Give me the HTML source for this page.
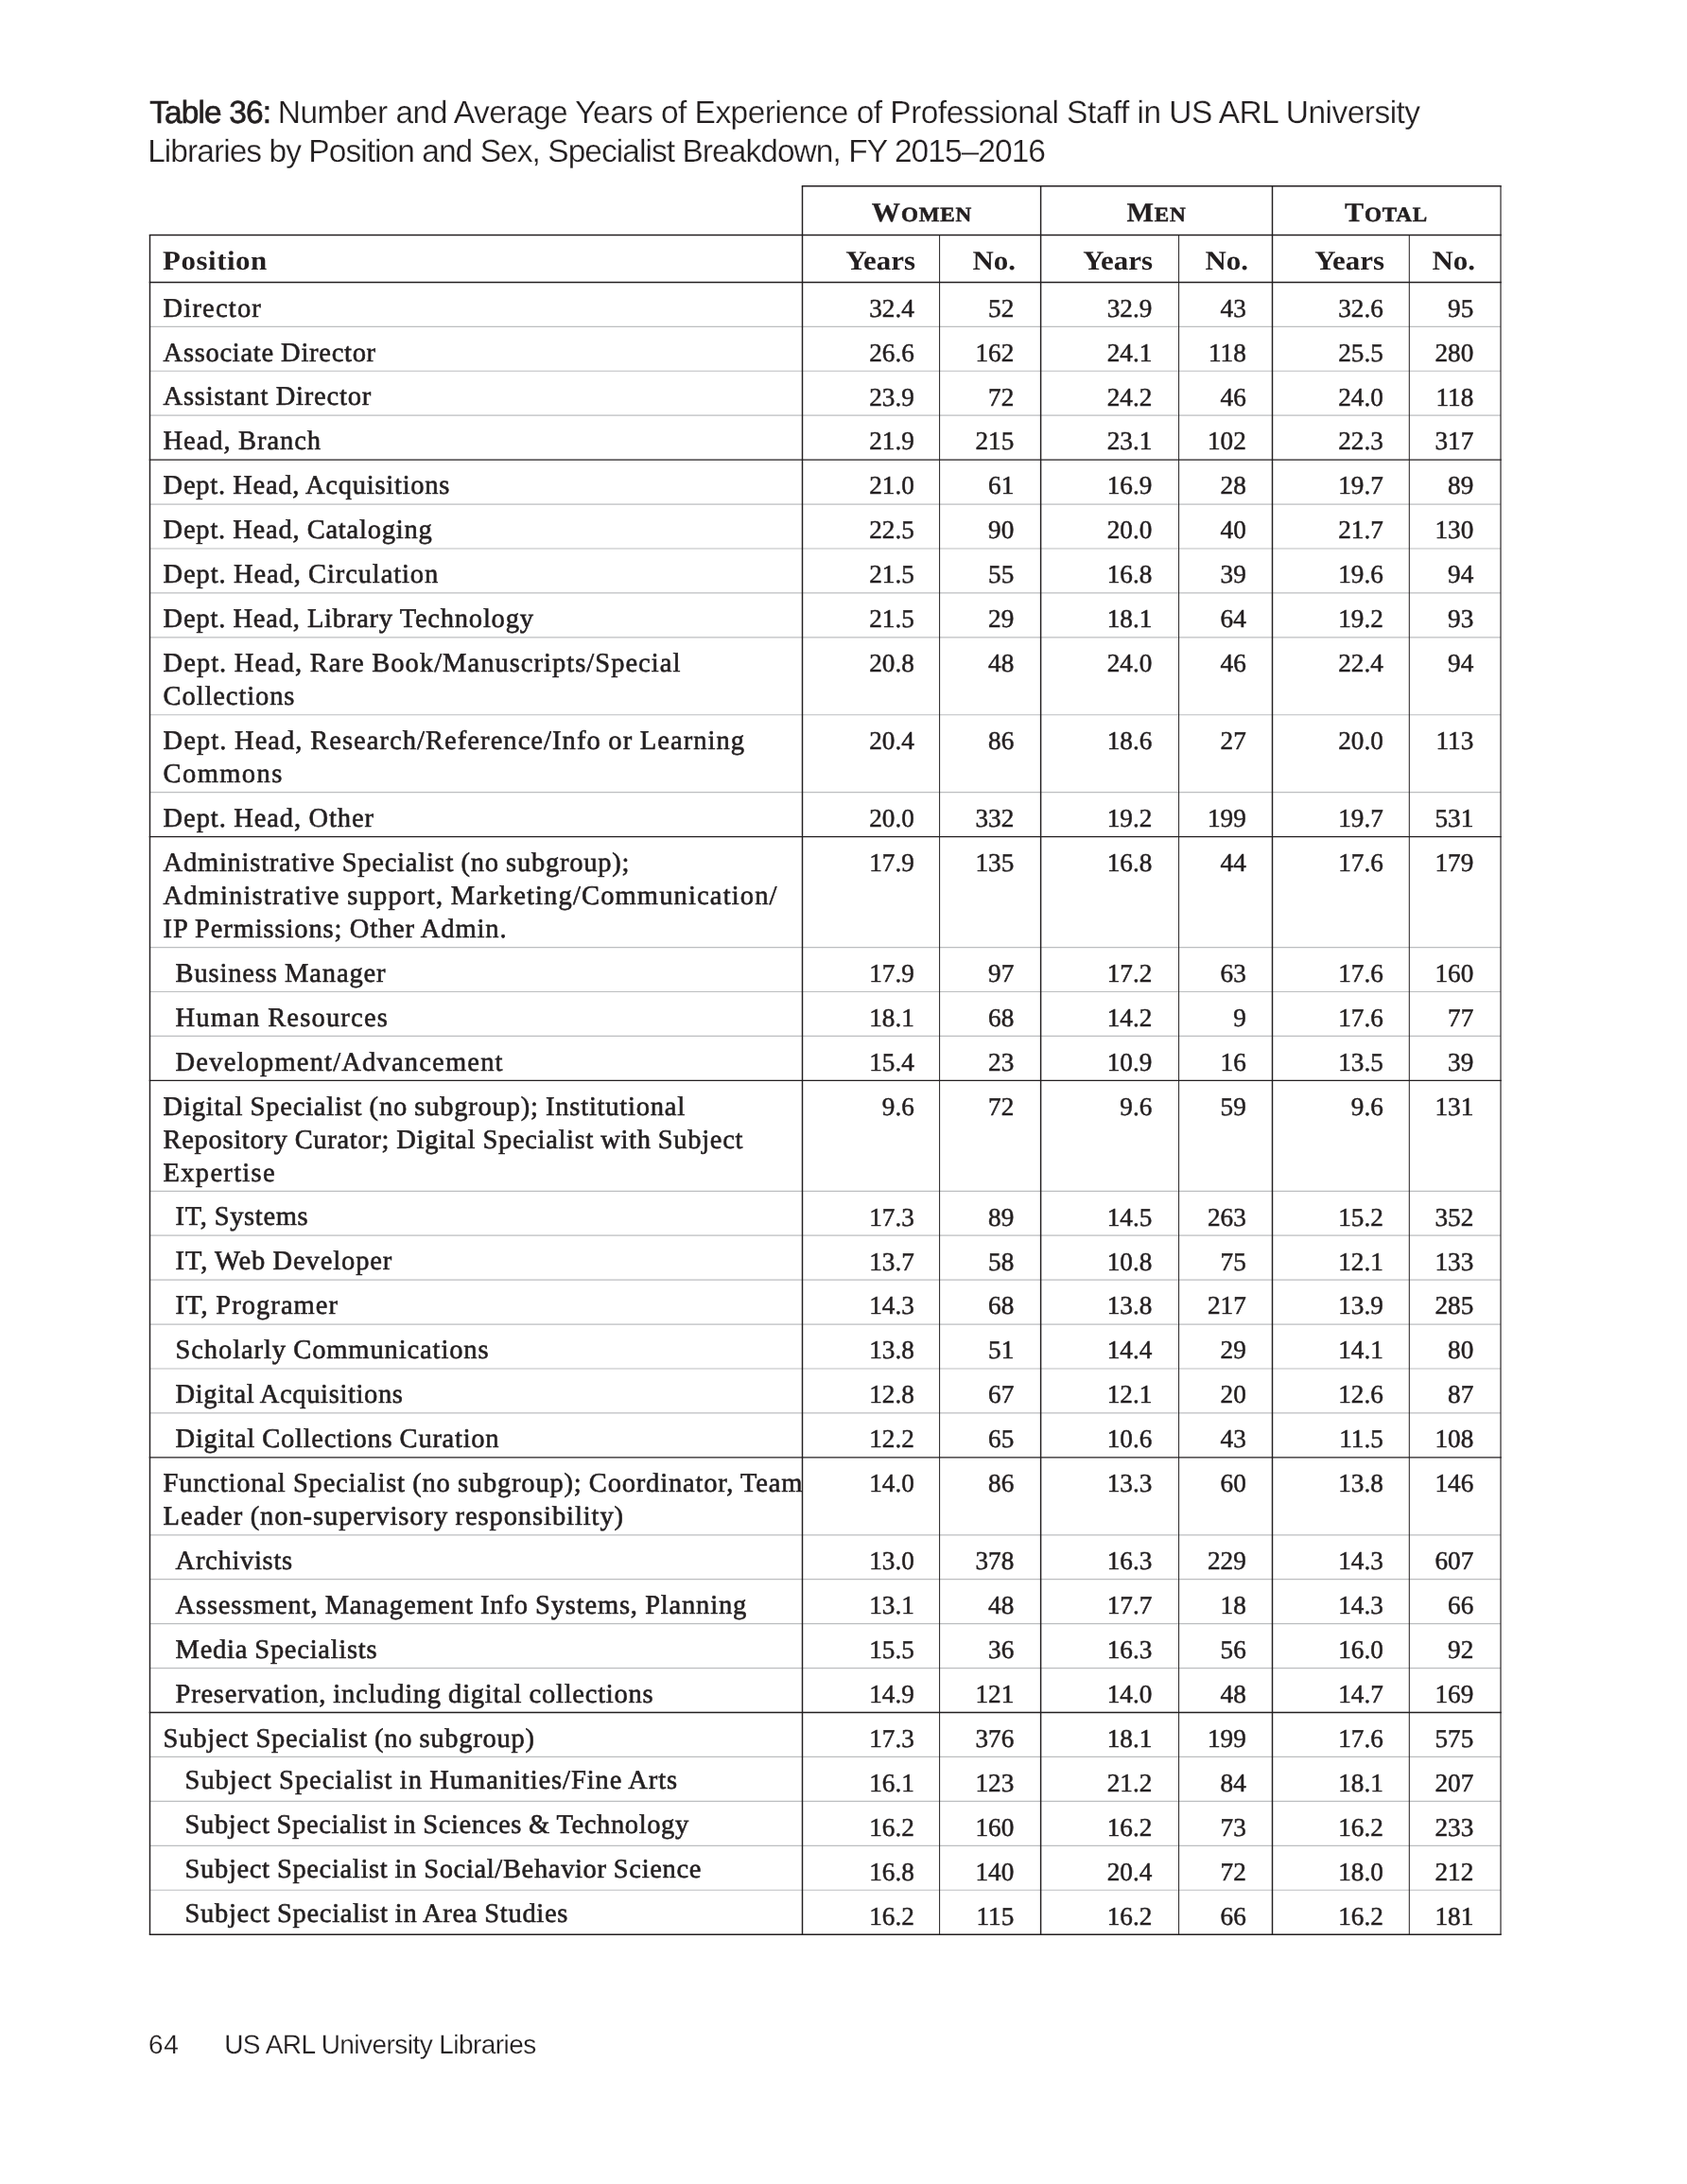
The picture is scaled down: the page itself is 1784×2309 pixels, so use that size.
<!DOCTYPE html>
<html lang="en"><head><meta charset="utf-8">
<title>Table 36: Number and Average Years of Experience of Professional Staff in US ARL University Libraries</title>
<style>

html,body{margin:0;padding:0;background:#fff;}
body{width:1784px;height:2309px;position:relative;overflow:hidden;color:#231f20;
  font-family:"Liberation Serif",serif;font-size:28.5px;line-height:35.0px;
  -webkit-font-smoothing:antialiased;text-rendering:geometricPrecision;font-kerning:normal;}
.page{position:absolute;left:0;top:0;width:1784px;height:2309px;will-change:transform;}
svg.rules{position:absolute;left:0;top:0;}
.title{position:absolute;left:158.2px;top:100.1px;margin:0;font-family:"Liberation Sans",sans-serif;font-weight:400;
  font-size:33.5px;line-height:40.8px;white-space:nowrap;color:#231f20;-webkit-text-stroke:0.25px #fff;}
.title b{font-weight:400;display:inline-block;width:126.8px;letter-spacing:-0.9px;-webkit-text-stroke:0.65px #231f20;}
.title span{display:block;}
.title .l1{letter-spacing:-0.53px;}
.title .l2{letter-spacing:-0.95px;margin-left:-2px;}
.tbl{position:absolute;left:0;top:0;width:1784px;}
.r{position:absolute;left:0;width:1784px;}
.c{position:absolute;top:0;white-space:nowrap;}
.p{letter-spacing:0.78px;word-spacing:-0.6px;-webkit-text-stroke:0.6px #231f20;}
.n{text-align:right;width:140px;font-size:27.2px;-webkit-text-stroke:0.5px #231f20;}
.h{font-weight:700;font-size:28.5px;-webkit-text-stroke:0;transform:scaleX(1.085);transform-origin:100% 50%;}
.h.p{transform-origin:0 50%;letter-spacing:0.5px;}
.g{text-align:center;font-weight:700;font-size:21.8px;letter-spacing:0.8px;transform:scaleX(1.06);-webkit-text-stroke:0.6px #231f20;}
.g i{font-style:normal;font-size:28.5px;-webkit-text-stroke:0.25px #231f20;}
.foot{position:absolute;left:158px;top:2143.6px;font-family:"Liberation Sans",sans-serif;font-size:28px;line-height:36px;white-space:nowrap;color:#231f20;letter-spacing:-0.55px;-webkit-text-stroke:0.2px #fff;}
.foot .pg{position:absolute;left:-0.9px;top:0;letter-spacing:0.6px;}
.foot .rt{position:absolute;left:79.2px;top:0;}

</style></head><body><div class="page">
<svg class="rules" width="1784" height="2309" viewBox="0 0 1784 2309" aria-hidden="true">
<line x1="158.5" y1="345.33" x2="1587" y2="345.33" stroke="#bcbec0" stroke-width="1.2"/>
<line x1="158.5" y1="392.26" x2="1587" y2="392.26" stroke="#bcbec0" stroke-width="1.2"/>
<line x1="158.5" y1="439.19" x2="1587" y2="439.19" stroke="#bcbec0" stroke-width="1.2"/>
<line x1="158.5" y1="533.05" x2="1587" y2="533.05" stroke="#bcbec0" stroke-width="1.2"/>
<line x1="158.5" y1="579.98" x2="1587" y2="579.98" stroke="#bcbec0" stroke-width="1.2"/>
<line x1="158.5" y1="626.91" x2="1587" y2="626.91" stroke="#bcbec0" stroke-width="1.2"/>
<line x1="158.5" y1="673.84" x2="1587" y2="673.84" stroke="#bcbec0" stroke-width="1.2"/>
<line x1="158.5" y1="755.77" x2="1587" y2="755.77" stroke="#bcbec0" stroke-width="1.2"/>
<line x1="158.5" y1="837.7" x2="1587" y2="837.7" stroke="#bcbec0" stroke-width="1.2"/>
<line x1="158.5" y1="1001.56" x2="1587" y2="1001.56" stroke="#bcbec0" stroke-width="1.2"/>
<line x1="158.5" y1="1048.49" x2="1587" y2="1048.49" stroke="#bcbec0" stroke-width="1.2"/>
<line x1="158.5" y1="1095.42" x2="1587" y2="1095.42" stroke="#bcbec0" stroke-width="1.2"/>
<line x1="158.5" y1="1259.28" x2="1587" y2="1259.28" stroke="#bcbec0" stroke-width="1.2"/>
<line x1="158.5" y1="1306.21" x2="1587" y2="1306.21" stroke="#bcbec0" stroke-width="1.2"/>
<line x1="158.5" y1="1353.14" x2="1587" y2="1353.14" stroke="#bcbec0" stroke-width="1.2"/>
<line x1="158.5" y1="1400.07" x2="1587" y2="1400.07" stroke="#bcbec0" stroke-width="1.2"/>
<line x1="158.5" y1="1447" x2="1587" y2="1447" stroke="#bcbec0" stroke-width="1.2"/>
<line x1="158.5" y1="1493.93" x2="1587" y2="1493.93" stroke="#bcbec0" stroke-width="1.2"/>
<line x1="158.5" y1="1622.79" x2="1587" y2="1622.79" stroke="#bcbec0" stroke-width="1.2"/>
<line x1="158.5" y1="1669.72" x2="1587" y2="1669.72" stroke="#bcbec0" stroke-width="1.2"/>
<line x1="158.5" y1="1716.65" x2="1587" y2="1716.65" stroke="#bcbec0" stroke-width="1.2"/>
<line x1="158.5" y1="1763.58" x2="1587" y2="1763.58" stroke="#bcbec0" stroke-width="1.2"/>
<line x1="158.5" y1="1857.44" x2="1587" y2="1857.44" stroke="#bcbec0" stroke-width="1.2"/>
<line x1="158.5" y1="1904.37" x2="1587" y2="1904.37" stroke="#bcbec0" stroke-width="1.2"/>
<line x1="158.5" y1="1951.3" x2="1587" y2="1951.3" stroke="#bcbec0" stroke-width="1.2"/>
<line x1="158.5" y1="1998.23" x2="1587" y2="1998.23" stroke="#bcbec0" stroke-width="1.2"/>
<line x1="158.5" y1="248.4" x2="158.5" y2="2045.16" stroke="#231f20" stroke-width="1.45"/>
<line x1="848.5" y1="196.7" x2="848.5" y2="2045.16" stroke="#231f20" stroke-width="1.45"/>
<line x1="993.6" y1="248.4" x2="993.6" y2="2045.16" stroke="#231f20" stroke-width="1.0"/>
<line x1="1100.6" y1="196.7" x2="1100.6" y2="2045.16" stroke="#231f20" stroke-width="1.45"/>
<line x1="1246.6" y1="248.4" x2="1246.6" y2="2045.16" stroke="#231f20" stroke-width="1.0"/>
<line x1="1345.5" y1="196.7" x2="1345.5" y2="2045.16" stroke="#231f20" stroke-width="1.45"/>
<line x1="1490.3" y1="248.4" x2="1490.3" y2="2045.16" stroke="#231f20" stroke-width="1.0"/>
<line x1="1587" y1="196.7" x2="1587" y2="2045.16" stroke="#231f20" stroke-width="1.15"/>
<line x1="847.77" y1="196.7" x2="1587.72" y2="196.7" stroke="#231f20" stroke-width="1.45"/>
<line x1="157.78" y1="248.4" x2="1587.72" y2="248.4" stroke="#231f20" stroke-width="1.45"/>
<line x1="157.78" y1="298.4" x2="1587.72" y2="298.4" stroke="#231f20" stroke-width="1.45"/>
<line x1="157.78" y1="486.12" x2="1587.72" y2="486.12" stroke="#231f20" stroke-width="1.45"/>
<line x1="157.78" y1="884.63" x2="1587.72" y2="884.63" stroke="#231f20" stroke-width="1.45"/>
<line x1="157.78" y1="1142.35" x2="1587.72" y2="1142.35" stroke="#231f20" stroke-width="1.45"/>
<line x1="157.78" y1="1540.86" x2="1587.72" y2="1540.86" stroke="#231f20" stroke-width="1.45"/>
<line x1="157.78" y1="1810.51" x2="1587.72" y2="1810.51" stroke="#231f20" stroke-width="1.45"/>
<line x1="157.78" y1="2045.16" x2="1587.72" y2="2045.16" stroke="#231f20" stroke-width="1.45"/>
</svg>
<h1 class="title"><span class="l1"><b>Table 36:</b> Number and Average Years of Experience of Professional Staff in US ARL University</span><span class="l2">Libraries by Position and Sex, Specialist Breakdown, FY 2015–2016</span></h1>
<div class="tbl">
<div class="r" style="top:196.7px;height:51.7px">
<div class="c g" style="left:854.55px;width:240px;top:11.7px"><i>W</i>OMEN</div>
<div class="c g" style="left:1103.05px;width:240px;top:11.7px"><i>M</i>EN</div>
<div class="c g" style="left:1346.25px;width:240px;top:11.7px"><i>T</i>OTAL</div>
</div>
<div class="r" style="top:248.4px;height:50px">
<div class="c h p" style="left:171.7px;top:10.8px">Position</div>
<div class="c n h" style="left:827.7px;top:10.8px">Years</div>
<div class="c n h" style="left:934.2px;top:10.8px">No.</div>
<div class="c n h" style="left:1079.2px;top:10.8px">Years</div>
<div class="c n h" style="left:1179.7px;top:10.8px">No.</div>
<div class="c n h" style="left:1323.7px;top:10.8px">Years</div>
<div class="c n h" style="left:1420.2px;top:10.8px">No.</div>
</div>
<div class="r" style="top:298.4px;height:46.93px">
<div class="c p" style="left:172.6px;top:10.2px"><span style="letter-spacing:1.18px">Director</span></div>
<div class="c n" style="left:826.8px;top:10.3px">32.4</div>
<div class="c n" style="left:932.3px;top:10.3px">52</div>
<div class="c n" style="left:1078.3px;top:10.3px">32.9</div>
<div class="c n" style="left:1177.8px;top:10.3px">43</div>
<div class="c n" style="left:1322.8px;top:10.3px">32.6</div>
<div class="c n" style="left:1418.3px;top:10.3px">95</div>
</div>
<div class="r" style="top:345.33px;height:46.93px">
<div class="c p" style="left:172.6px;top:10.2px"><span style="letter-spacing:0.72px">Associate Director</span></div>
<div class="c n" style="left:826.8px;top:10.3px">26.6</div>
<div class="c n" style="left:932.3px;top:10.3px">162</div>
<div class="c n" style="left:1078.3px;top:10.3px">24.1</div>
<div class="c n" style="left:1177.8px;top:10.3px">118</div>
<div class="c n" style="left:1322.8px;top:10.3px">25.5</div>
<div class="c n" style="left:1418.3px;top:10.3px">280</div>
</div>
<div class="r" style="top:392.26px;height:46.93px">
<div class="c p" style="left:172.6px;top:10.2px"><span style="letter-spacing:0.8px">Assistant Director</span></div>
<div class="c n" style="left:826.8px;top:10.3px">23.9</div>
<div class="c n" style="left:932.3px;top:10.3px">72</div>
<div class="c n" style="left:1078.3px;top:10.3px">24.2</div>
<div class="c n" style="left:1177.8px;top:10.3px">46</div>
<div class="c n" style="left:1322.8px;top:10.3px">24.0</div>
<div class="c n" style="left:1418.3px;top:10.3px">118</div>
</div>
<div class="r" style="top:439.19px;height:46.93px">
<div class="c p" style="left:172.6px;top:10.2px"><span style="letter-spacing:0.94px">Head, Branch</span></div>
<div class="c n" style="left:826.8px;top:10.3px">21.9</div>
<div class="c n" style="left:932.3px;top:10.3px">215</div>
<div class="c n" style="left:1078.3px;top:10.3px">23.1</div>
<div class="c n" style="left:1177.8px;top:10.3px">102</div>
<div class="c n" style="left:1322.8px;top:10.3px">22.3</div>
<div class="c n" style="left:1418.3px;top:10.3px">317</div>
</div>
<div class="r" style="top:486.12px;height:46.93px">
<div class="c p" style="left:172.6px;top:10.2px"><span style="letter-spacing:0.76px">Dept. Head, Acquisitions</span></div>
<div class="c n" style="left:826.8px;top:10.3px">21.0</div>
<div class="c n" style="left:932.3px;top:10.3px">61</div>
<div class="c n" style="left:1078.3px;top:10.3px">16.9</div>
<div class="c n" style="left:1177.8px;top:10.3px">28</div>
<div class="c n" style="left:1322.8px;top:10.3px">19.7</div>
<div class="c n" style="left:1418.3px;top:10.3px">89</div>
</div>
<div class="r" style="top:533.05px;height:46.93px">
<div class="c p" style="left:172.6px;top:10.2px"><span style="letter-spacing:0.77px">Dept. Head, Cataloging</span></div>
<div class="c n" style="left:826.8px;top:10.3px">22.5</div>
<div class="c n" style="left:932.3px;top:10.3px">90</div>
<div class="c n" style="left:1078.3px;top:10.3px">20.0</div>
<div class="c n" style="left:1177.8px;top:10.3px">40</div>
<div class="c n" style="left:1322.8px;top:10.3px">21.7</div>
<div class="c n" style="left:1418.3px;top:10.3px">130</div>
</div>
<div class="r" style="top:579.98px;height:46.93px">
<div class="c p" style="left:172.6px;top:10.2px"><span style="letter-spacing:0.89px">Dept. Head, Circulation</span></div>
<div class="c n" style="left:826.8px;top:10.3px">21.5</div>
<div class="c n" style="left:932.3px;top:10.3px">55</div>
<div class="c n" style="left:1078.3px;top:10.3px">16.8</div>
<div class="c n" style="left:1177.8px;top:10.3px">39</div>
<div class="c n" style="left:1322.8px;top:10.3px">19.6</div>
<div class="c n" style="left:1418.3px;top:10.3px">94</div>
</div>
<div class="r" style="top:626.91px;height:46.93px">
<div class="c p" style="left:172.6px;top:10.2px"><span style="letter-spacing:0.79px">Dept. Head, Library Technology</span></div>
<div class="c n" style="left:826.8px;top:10.3px">21.5</div>
<div class="c n" style="left:932.3px;top:10.3px">29</div>
<div class="c n" style="left:1078.3px;top:10.3px">18.1</div>
<div class="c n" style="left:1177.8px;top:10.3px">64</div>
<div class="c n" style="left:1322.8px;top:10.3px">19.2</div>
<div class="c n" style="left:1418.3px;top:10.3px">93</div>
</div>
<div class="r" style="top:673.84px;height:81.93px">
<div class="c p" style="left:172.6px;top:10.2px"><span style="letter-spacing:1.03px">Dept. Head, Rare Book/Manuscripts/Special</span><br><span style="letter-spacing:0.9px">Collections</span></div>
<div class="c n" style="left:826.8px;top:10.3px">20.8</div>
<div class="c n" style="left:932.3px;top:10.3px">48</div>
<div class="c n" style="left:1078.3px;top:10.3px">24.0</div>
<div class="c n" style="left:1177.8px;top:10.3px">46</div>
<div class="c n" style="left:1322.8px;top:10.3px">22.4</div>
<div class="c n" style="left:1418.3px;top:10.3px">94</div>
</div>
<div class="r" style="top:755.77px;height:81.93px">
<div class="c p" style="left:172.6px;top:10.2px"><span style="letter-spacing:1.06px">Dept. Head, Research/Reference/Info or Learning</span><br><span style="letter-spacing:1.41px">Commons</span></div>
<div class="c n" style="left:826.8px;top:10.3px">20.4</div>
<div class="c n" style="left:932.3px;top:10.3px">86</div>
<div class="c n" style="left:1078.3px;top:10.3px">18.6</div>
<div class="c n" style="left:1177.8px;top:10.3px">27</div>
<div class="c n" style="left:1322.8px;top:10.3px">20.0</div>
<div class="c n" style="left:1418.3px;top:10.3px">113</div>
</div>
<div class="r" style="top:837.7px;height:46.93px">
<div class="c p" style="left:172.6px;top:10.2px"><span style="letter-spacing:0.92px">Dept. Head, Other</span></div>
<div class="c n" style="left:826.8px;top:10.3px">20.0</div>
<div class="c n" style="left:932.3px;top:10.3px">332</div>
<div class="c n" style="left:1078.3px;top:10.3px">19.2</div>
<div class="c n" style="left:1177.8px;top:10.3px">199</div>
<div class="c n" style="left:1322.8px;top:10.3px">19.7</div>
<div class="c n" style="left:1418.3px;top:10.3px">531</div>
</div>
<div class="r" style="top:884.63px;height:116.93px">
<div class="c p" style="left:172.6px;top:10.2px"><span style="letter-spacing:0.77px">Administrative Specialist (no subgroup);</span><br><span style="letter-spacing:1.15px">Administrative support, Marketing/Communication/</span><br><span style="letter-spacing:0.88px">IP Permissions; Other Admin.</span></div>
<div class="c n" style="left:826.8px;top:10.3px">17.9</div>
<div class="c n" style="left:932.3px;top:10.3px">135</div>
<div class="c n" style="left:1078.3px;top:10.3px">16.8</div>
<div class="c n" style="left:1177.8px;top:10.3px">44</div>
<div class="c n" style="left:1322.8px;top:10.3px">17.6</div>
<div class="c n" style="left:1418.3px;top:10.3px">179</div>
</div>
<div class="r" style="top:1001.56px;height:46.93px">
<div class="c p" style="left:185.6px;top:10.2px"><span style="letter-spacing:0.85px">Business Manager</span></div>
<div class="c n" style="left:826.8px;top:10.3px">17.9</div>
<div class="c n" style="left:932.3px;top:10.3px">97</div>
<div class="c n" style="left:1078.3px;top:10.3px">17.2</div>
<div class="c n" style="left:1177.8px;top:10.3px">63</div>
<div class="c n" style="left:1322.8px;top:10.3px">17.6</div>
<div class="c n" style="left:1418.3px;top:10.3px">160</div>
</div>
<div class="r" style="top:1048.49px;height:46.93px">
<div class="c p" style="left:185.6px;top:10.2px"><span style="letter-spacing:1.19px">Human Resources</span></div>
<div class="c n" style="left:826.8px;top:10.3px">18.1</div>
<div class="c n" style="left:932.3px;top:10.3px">68</div>
<div class="c n" style="left:1078.3px;top:10.3px">14.2</div>
<div class="c n" style="left:1177.8px;top:10.3px">9</div>
<div class="c n" style="left:1322.8px;top:10.3px">17.6</div>
<div class="c n" style="left:1418.3px;top:10.3px">77</div>
</div>
<div class="r" style="top:1095.42px;height:46.93px">
<div class="c p" style="left:185.6px;top:10.2px"><span style="letter-spacing:1.19px">Development/Advancement</span></div>
<div class="c n" style="left:826.8px;top:10.3px">15.4</div>
<div class="c n" style="left:932.3px;top:10.3px">23</div>
<div class="c n" style="left:1078.3px;top:10.3px">10.9</div>
<div class="c n" style="left:1177.8px;top:10.3px">16</div>
<div class="c n" style="left:1322.8px;top:10.3px">13.5</div>
<div class="c n" style="left:1418.3px;top:10.3px">39</div>
</div>
<div class="r" style="top:1142.35px;height:116.93px">
<div class="c p" style="left:172.6px;top:10.2px"><span style="letter-spacing:0.79px">Digital Specialist (no subgroup); Institutional</span><br><span style="letter-spacing:0.68px">Repository Curator; Digital Specialist with Subject</span><br><span style="letter-spacing:1.3px">Expertise</span></div>
<div class="c n" style="left:826.8px;top:10.3px">9.6</div>
<div class="c n" style="left:932.3px;top:10.3px">72</div>
<div class="c n" style="left:1078.3px;top:10.3px">9.6</div>
<div class="c n" style="left:1177.8px;top:10.3px">59</div>
<div class="c n" style="left:1322.8px;top:10.3px">9.6</div>
<div class="c n" style="left:1418.3px;top:10.3px">131</div>
</div>
<div class="r" style="top:1259.28px;height:46.93px">
<div class="c p" style="left:185.6px;top:10.2px"><span style="letter-spacing:0.66px">IT, Systems</span></div>
<div class="c n" style="left:826.8px;top:10.3px">17.3</div>
<div class="c n" style="left:932.3px;top:10.3px">89</div>
<div class="c n" style="left:1078.3px;top:10.3px">14.5</div>
<div class="c n" style="left:1177.8px;top:10.3px">263</div>
<div class="c n" style="left:1322.8px;top:10.3px">15.2</div>
<div class="c n" style="left:1418.3px;top:10.3px">352</div>
</div>
<div class="r" style="top:1306.21px;height:46.93px">
<div class="c p" style="left:185.6px;top:10.2px"><span style="letter-spacing:0.88px">IT, Web Developer</span></div>
<div class="c n" style="left:826.8px;top:10.3px">13.7</div>
<div class="c n" style="left:932.3px;top:10.3px">58</div>
<div class="c n" style="left:1078.3px;top:10.3px">10.8</div>
<div class="c n" style="left:1177.8px;top:10.3px">75</div>
<div class="c n" style="left:1322.8px;top:10.3px">12.1</div>
<div class="c n" style="left:1418.3px;top:10.3px">133</div>
</div>
<div class="r" style="top:1353.14px;height:46.93px">
<div class="c p" style="left:185.6px;top:10.2px"><span style="letter-spacing:1.06px">IT, Programer</span></div>
<div class="c n" style="left:826.8px;top:10.3px">14.3</div>
<div class="c n" style="left:932.3px;top:10.3px">68</div>
<div class="c n" style="left:1078.3px;top:10.3px">13.8</div>
<div class="c n" style="left:1177.8px;top:10.3px">217</div>
<div class="c n" style="left:1322.8px;top:10.3px">13.9</div>
<div class="c n" style="left:1418.3px;top:10.3px">285</div>
</div>
<div class="r" style="top:1400.07px;height:46.93px">
<div class="c p" style="left:185.6px;top:10.2px"><span style="letter-spacing:0.89px">Scholarly Communications</span></div>
<div class="c n" style="left:826.8px;top:10.3px">13.8</div>
<div class="c n" style="left:932.3px;top:10.3px">51</div>
<div class="c n" style="left:1078.3px;top:10.3px">14.4</div>
<div class="c n" style="left:1177.8px;top:10.3px">29</div>
<div class="c n" style="left:1322.8px;top:10.3px">14.1</div>
<div class="c n" style="left:1418.3px;top:10.3px">80</div>
</div>
<div class="r" style="top:1447px;height:46.93px">
<div class="c p" style="left:185.6px;top:10.2px"><span style="letter-spacing:0.64px">Digital Acquisitions</span></div>
<div class="c n" style="left:826.8px;top:10.3px">12.8</div>
<div class="c n" style="left:932.3px;top:10.3px">67</div>
<div class="c n" style="left:1078.3px;top:10.3px">12.1</div>
<div class="c n" style="left:1177.8px;top:10.3px">20</div>
<div class="c n" style="left:1322.8px;top:10.3px">12.6</div>
<div class="c n" style="left:1418.3px;top:10.3px">87</div>
</div>
<div class="r" style="top:1493.93px;height:46.93px">
<div class="c p" style="left:185.6px;top:10.2px"><span style="letter-spacing:0.75px">Digital Collections Curation</span></div>
<div class="c n" style="left:826.8px;top:10.3px">12.2</div>
<div class="c n" style="left:932.3px;top:10.3px">65</div>
<div class="c n" style="left:1078.3px;top:10.3px">10.6</div>
<div class="c n" style="left:1177.8px;top:10.3px">43</div>
<div class="c n" style="left:1322.8px;top:10.3px">11.5</div>
<div class="c n" style="left:1418.3px;top:10.3px">108</div>
</div>
<div class="r" style="top:1540.86px;height:81.93px">
<div class="c p" style="left:172.6px;top:10.2px"><span style="letter-spacing:0.81px">Functional Specialist (no subgroup); Coordinator, Team</span><br><span style="letter-spacing:0.92px">Leader (non-supervisory responsibility)</span></div>
<div class="c n" style="left:826.8px;top:10.3px">14.0</div>
<div class="c n" style="left:932.3px;top:10.3px">86</div>
<div class="c n" style="left:1078.3px;top:10.3px">13.3</div>
<div class="c n" style="left:1177.8px;top:10.3px">60</div>
<div class="c n" style="left:1322.8px;top:10.3px">13.8</div>
<div class="c n" style="left:1418.3px;top:10.3px">146</div>
</div>
<div class="r" style="top:1622.79px;height:46.93px">
<div class="c p" style="left:185.6px;top:10.2px"><span style="letter-spacing:0.71px">Archivists</span></div>
<div class="c n" style="left:826.8px;top:10.3px">13.0</div>
<div class="c n" style="left:932.3px;top:10.3px">378</div>
<div class="c n" style="left:1078.3px;top:10.3px">16.3</div>
<div class="c n" style="left:1177.8px;top:10.3px">229</div>
<div class="c n" style="left:1322.8px;top:10.3px">14.3</div>
<div class="c n" style="left:1418.3px;top:10.3px">607</div>
</div>
<div class="r" style="top:1669.72px;height:46.93px">
<div class="c p" style="left:185.6px;top:10.2px"><span style="letter-spacing:0.82px">Assessment, Management Info Systems, Planning</span></div>
<div class="c n" style="left:826.8px;top:10.3px">13.1</div>
<div class="c n" style="left:932.3px;top:10.3px">48</div>
<div class="c n" style="left:1078.3px;top:10.3px">17.7</div>
<div class="c n" style="left:1177.8px;top:10.3px">18</div>
<div class="c n" style="left:1322.8px;top:10.3px">14.3</div>
<div class="c n" style="left:1418.3px;top:10.3px">66</div>
</div>
<div class="r" style="top:1716.65px;height:46.93px">
<div class="c p" style="left:185.6px;top:10.2px"><span style="letter-spacing:0.73px">Media Specialists</span></div>
<div class="c n" style="left:826.8px;top:10.3px">15.5</div>
<div class="c n" style="left:932.3px;top:10.3px">36</div>
<div class="c n" style="left:1078.3px;top:10.3px">16.3</div>
<div class="c n" style="left:1177.8px;top:10.3px">56</div>
<div class="c n" style="left:1322.8px;top:10.3px">16.0</div>
<div class="c n" style="left:1418.3px;top:10.3px">92</div>
</div>
<div class="r" style="top:1763.58px;height:46.93px">
<div class="c p" style="left:185.6px;top:10.2px"><span style="letter-spacing:0.76px">Preservation, including digital collections</span></div>
<div class="c n" style="left:826.8px;top:10.3px">14.9</div>
<div class="c n" style="left:932.3px;top:10.3px">121</div>
<div class="c n" style="left:1078.3px;top:10.3px">14.0</div>
<div class="c n" style="left:1177.8px;top:10.3px">48</div>
<div class="c n" style="left:1322.8px;top:10.3px">14.7</div>
<div class="c n" style="left:1418.3px;top:10.3px">169</div>
</div>
<div class="r" style="top:1810.51px;height:46.93px">
<div class="c p" style="left:172.6px;top:10.2px"><span style="letter-spacing:0.74px">Subject Specialist (no subgroup)</span></div>
<div class="c n" style="left:826.8px;top:10.3px">17.3</div>
<div class="c n" style="left:932.3px;top:10.3px">376</div>
<div class="c n" style="left:1078.3px;top:10.3px">18.1</div>
<div class="c n" style="left:1177.8px;top:10.3px">199</div>
<div class="c n" style="left:1322.8px;top:10.3px">17.6</div>
<div class="c n" style="left:1418.3px;top:10.3px">575</div>
</div>
<div class="r" style="top:1857.44px;height:46.93px">
<div class="c p" style="left:195.6px;top:7.6px"><span style="letter-spacing:0.94px">Subject Specialist in Humanities/Fine Arts</span></div>
<div class="c n" style="left:826.8px;top:10.3px">16.1</div>
<div class="c n" style="left:932.3px;top:10.3px">123</div>
<div class="c n" style="left:1078.3px;top:10.3px">21.2</div>
<div class="c n" style="left:1177.8px;top:10.3px">84</div>
<div class="c n" style="left:1322.8px;top:10.3px">18.1</div>
<div class="c n" style="left:1418.3px;top:10.3px">207</div>
</div>
<div class="r" style="top:1904.37px;height:46.93px">
<div class="c p" style="left:195.6px;top:7.6px"><span style="letter-spacing:0.62px">Subject Specialist in Sciences &amp; Technology</span></div>
<div class="c n" style="left:826.8px;top:10.3px">16.2</div>
<div class="c n" style="left:932.3px;top:10.3px">160</div>
<div class="c n" style="left:1078.3px;top:10.3px">16.2</div>
<div class="c n" style="left:1177.8px;top:10.3px">73</div>
<div class="c n" style="left:1322.8px;top:10.3px">16.2</div>
<div class="c n" style="left:1418.3px;top:10.3px">233</div>
</div>
<div class="r" style="top:1951.3px;height:46.93px">
<div class="c p" style="left:195.6px;top:7.6px"><span style="letter-spacing:0.66px">Subject Specialist in Social/Behavior Science</span></div>
<div class="c n" style="left:826.8px;top:10.3px">16.8</div>
<div class="c n" style="left:932.3px;top:10.3px">140</div>
<div class="c n" style="left:1078.3px;top:10.3px">20.4</div>
<div class="c n" style="left:1177.8px;top:10.3px">72</div>
<div class="c n" style="left:1322.8px;top:10.3px">18.0</div>
<div class="c n" style="left:1418.3px;top:10.3px">212</div>
</div>
<div class="r" style="top:1998.23px;height:46.93px">
<div class="c p" style="left:195.6px;top:7.6px"><span style="letter-spacing:0.68px">Subject Specialist in Area Studies</span></div>
<div class="c n" style="left:826.8px;top:10.3px">16.2</div>
<div class="c n" style="left:932.3px;top:10.3px">115</div>
<div class="c n" style="left:1078.3px;top:10.3px">16.2</div>
<div class="c n" style="left:1177.8px;top:10.3px">66</div>
<div class="c n" style="left:1322.8px;top:10.3px">16.2</div>
<div class="c n" style="left:1418.3px;top:10.3px">181</div>
</div>
</div>
<div class="foot"><span class="pg">64</span><span class="rt">US ARL University Libraries</span></div>
</div></body></html>
